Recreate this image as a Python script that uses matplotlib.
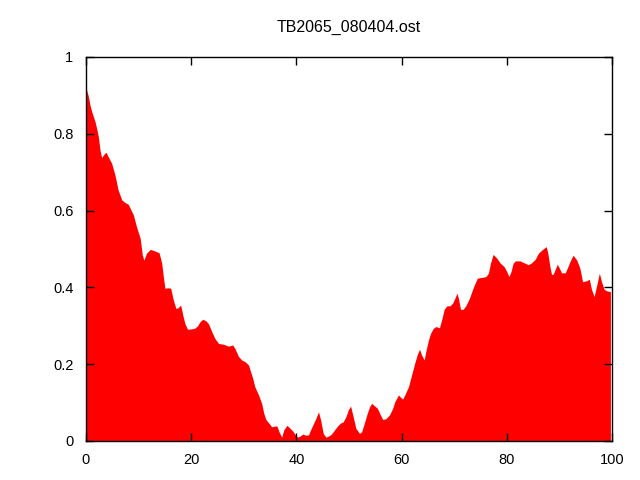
import matplotlib
matplotlib.use("Agg")
import matplotlib.pyplot as plt

title = "TB2065_080404.ost"

x = [0, 0.44, 0.76, 1.08, 1.4, 1.71, 2.03, 2.34, 2.66, 2.98, 3.3, 3.8, 4.24, 4.88, 5.5, 6.1, 6.8, 7.4, 8.0, 8.4,
     9.0, 9.6, 10.3, 10.7, 11.0, 11.5, 12.2, 13.1, 13.9, 14.4, 14.7, 15.0, 15.6, 16.1, 16.6, 17.1, 17.5, 18.0, 18.4, 18.8,
     19.3, 20.1, 20.7, 21.2, 21.7, 22.2, 22.8, 23.3, 23.9, 24.5, 25.2, 26.1, 27.1, 27.9, 28.3, 29.0, 29.6, 30.2, 30.9, 31.3,
     31.7, 32.1, 32.8, 33.4, 33.8, 34.2, 34.8, 35.3, 35.9, 36.3, 36.7, 37.2, 37.6, 38.2, 38.8, 39.3, 39.7, 40.2, 40.7, 41.2,
     41.8, 42.3, 42.7, 43.2, 43.7, 44.2, 44.6, 45.1, 45.6, 46.1, 46.5, 47.0, 47.7, 48.3, 48.9, 49.4, 49.9, 50.3, 50.8, 51.3,
     52.0, 52.4, 52.9, 53.4, 53.9, 54.3, 54.9, 55.4, 55.9, 56.4, 57.0, 57.7, 58.3, 58.7, 59.4, 59.8, 60.2, 60.6, 61.3, 61.9,
     62.5, 63.0, 63.4, 63.8, 64.3, 64.6, 65.1, 65.5, 66.0, 66.5, 67.2, 67.6, 68.1, 68.6, 69.2, 69.7, 70.2, 70.5, 70.8, 71.2,
     71.7, 72.2, 72.9, 73.5, 74.0, 74.4, 75.2, 76.0, 76.5, 76.9, 77.4, 78.1, 78.7, 79.5, 80.0, 80.4, 80.8, 81.2, 81.6, 82.5,
     83.3, 84.1, 84.7, 85.4, 86.0, 86.8, 87.5, 87.8, 88.2, 88.5, 88.8, 89.2, 89.6, 90.0, 90.4, 91.1, 91.5, 92.0, 92.6, 93.3,
     93.9, 94.4, 95.1, 95.7, 96.1, 96.6, 97.1, 97.6, 98.0, 98.5, 99.0, 99.7]

y = [0.920, 0.898, 0.875, 0.858, 0.845, 0.832, 0.814, 0.793, 0.758, 0.738, 0.745, 0.752, 0.740, 0.723, 0.693, 0.654, 0.628, 0.621, 0.617, 0.606,
     0.589, 0.558, 0.528, 0.485, 0.471, 0.489, 0.499, 0.495, 0.490, 0.463, 0.428, 0.398, 0.399, 0.398, 0.367, 0.345, 0.347, 0.354, 0.328, 0.306,
     0.291, 0.292, 0.294, 0.300, 0.311, 0.317, 0.313, 0.305, 0.285, 0.267, 0.254, 0.252, 0.247, 0.250, 0.241, 0.220, 0.211, 0.207, 0.198, 0.180,
     0.163, 0.141, 0.120, 0.098, 0.072, 0.056, 0.046, 0.037, 0.039, 0.039, 0.024, 0.010, 0.029, 0.041, 0.033, 0.026, 0.018, 0.010, 0.013, 0.018,
     0.015, 0.016, 0.029, 0.044, 0.059, 0.076, 0.055, 0.020, 0.010, 0.013, 0.016, 0.024, 0.037, 0.046, 0.050, 0.063, 0.082, 0.091, 0.063, 0.033,
     0.020, 0.024, 0.046, 0.069, 0.089, 0.098, 0.091, 0.085, 0.070, 0.056, 0.058, 0.068, 0.085, 0.102, 0.120, 0.114, 0.109, 0.120, 0.141, 0.172,
     0.203, 0.226, 0.239, 0.224, 0.211, 0.233, 0.263, 0.280, 0.293, 0.298, 0.295, 0.315, 0.343, 0.352, 0.352, 0.359, 0.374, 0.385, 0.372, 0.343,
     0.343, 0.352, 0.372, 0.395, 0.412, 0.424, 0.426, 0.428, 0.437, 0.463, 0.486, 0.476, 0.464, 0.454, 0.441, 0.428, 0.441, 0.463, 0.469, 0.469,
     0.464, 0.459, 0.464, 0.473, 0.489, 0.499, 0.506, 0.489, 0.454, 0.434, 0.434, 0.447, 0.460, 0.450, 0.438, 0.438, 0.450, 0.467, 0.484, 0.471,
     0.450, 0.415, 0.417, 0.421, 0.395, 0.376, 0.406, 0.437, 0.415, 0.395, 0.391, 0.389]

xticks = [0, 20, 40, 60, 80, 100]
yticks = [0, 0.2, 0.4, 0.6, 0.8, 1]
yticklabels = ["0", "0.2", "0.4", "0.6", "0.8", "1"]

plt.rcParams['font.family'] = ['Liberation Sans', 'DejaVu Sans']

fig = plt.figure(figsize=(6.4, 4.8), dpi=100)
ax = fig.add_axes([86/640, 1 - 441/480, (612 - 86)/640, (441 - 57)/480])
ax.fill_between(x, 0, y, color='#ff0000', linewidth=0, zorder=1)
ax.set_xlim(0, 100)
ax.set_ylim(0, 1)
ax.set_xticks(xticks)
ax.set_xticklabels([str(v) for v in xticks])
ax.set_yticks(yticks)
ax.set_yticklabels(yticklabels)
ax.tick_params(direction='in', length=6, width=1, top=True, right=True,
               labelsize=10.5, pad=9, colors='black')
for s in ax.spines.values():
    s.set_linewidth(1)
    s.set_zorder(3)
ax.set_title(title, fontsize=11.5, pad=18)
fig.savefig("out.png", dpi=100)
